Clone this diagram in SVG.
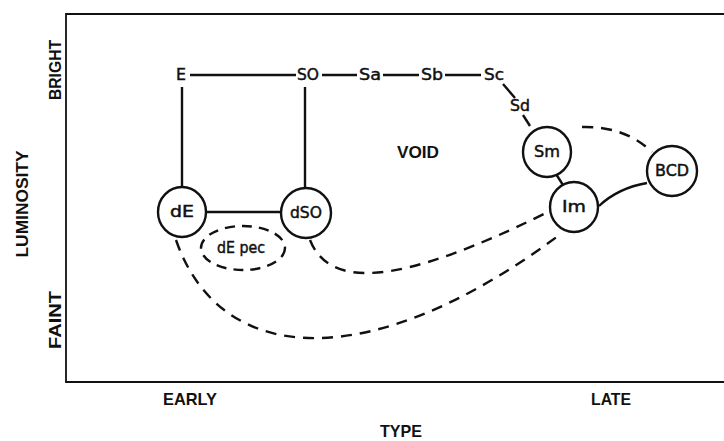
<svg xmlns="http://www.w3.org/2000/svg" width="724" height="441" viewBox="0 0 724 441">
<style>
.t{font-family:"DejaVu Sans","Liberation Sans",sans-serif;font-size:15px;fill:#111;stroke:#111;stroke-width:0.45;text-anchor:middle;dominant-baseline:central}
.ax{font-family:"Liberation Sans",Arial,sans-serif;font-size:17px;font-weight:bold;fill:#111;text-anchor:middle;dominant-baseline:central}
.s{stroke:#111;stroke-width:2.4;fill:none}
.d{stroke:#111;stroke-width:2.4;fill:none;stroke-dasharray:11 8}
.n{stroke:#111;stroke-width:2.4;fill:#fff}
</style>
<rect width="724" height="441" fill="#fff"/>
<g id="frame">
<polyline class="s" points="724,14 66,14 66,382 724,382" style="stroke-width:1.8"/>
</g>
<g id="axis-labels">
<text class="ax" transform="translate(55,70) rotate(-90)" textLength="60" lengthAdjust="spacingAndGlyphs">BRIGHT</text>
<text class="ax" transform="translate(22,204) rotate(-90)" textLength="107" lengthAdjust="spacingAndGlyphs">LUMINOSITY</text>
<text class="ax" transform="translate(55,320) rotate(-90)" textLength="58" lengthAdjust="spacingAndGlyphs">FAINT</text>
<text class="ax" x="190" y="399" textLength="54" lengthAdjust="spacingAndGlyphs">EARLY</text>
<text class="ax" x="611" y="399" textLength="40" lengthAdjust="spacingAndGlyphs">LATE</text>
<text class="ax" x="401" y="431" textLength="42" lengthAdjust="spacingAndGlyphs">TYPE</text>
<text class="ax" x="418" y="152" textLength="42" lengthAdjust="spacingAndGlyphs">VOID</text>
</g>
<g id="connectors">
<line class="s" x1="190" y1="75" x2="296" y2="75"/>
<line class="s" x1="322" y1="75" x2="357" y2="75"/>
<line class="s" x1="383" y1="75" x2="419" y2="75"/>
<line class="s" x1="445" y1="75" x2="481" y2="75"/>
<line class="s" x1="503" y1="84" x2="515" y2="98"/>
<line class="s" x1="523" y1="115" x2="530" y2="126"/>
<line class="s" x1="182" y1="87" x2="182" y2="188"/>
<line class="s" x1="305" y1="87" x2="305" y2="188"/>
<line class="s" x1="206" y1="212" x2="281" y2="212"/>
<line class="s" x1="556" y1="174" x2="563" y2="185"/>
<path class="d" d="M582 127 Q625 126 652 152"/>
<path class="s" d="M599 206 Q618 188 647 183"/>
<path class="d" d="M310 240 C330 290 400 285 546 213"/>
<path class="d" d="M176 240 C220 367 370 377 562 233"/>
</g>
<g id="E"><text class="t" x="181" y="75" textLength="10" lengthAdjust="spacingAndGlyphs">E</text></g>
<g id="SO"><text class="t" x="308" y="75" textLength="22" lengthAdjust="spacingAndGlyphs">SO</text></g>
<g id="Sa"><text class="t" x="370" y="75" textLength="22" lengthAdjust="spacingAndGlyphs">Sa</text></g>
<g id="Sb"><text class="t" x="432" y="75" textLength="22" lengthAdjust="spacingAndGlyphs">Sb</text></g>
<g id="Sc"><text class="t" x="494" y="75" textLength="20" lengthAdjust="spacingAndGlyphs">Sc</text></g>
<g id="Sd"><text class="t" x="520" y="106" textLength="20" lengthAdjust="spacingAndGlyphs">Sd</text></g>
<g id="dE"><ellipse class="n" cx="182" cy="212" rx="24" ry="25"/><text class="t" x="182" y="212" textLength="24" lengthAdjust="spacingAndGlyphs">dE</text></g>
<g id="dSO"><ellipse class="n" cx="306" cy="213" rx="25" ry="25"/><text class="t" x="306" y="213" textLength="32" lengthAdjust="spacingAndGlyphs">dSO</text></g>
<g id="dEpec"><ellipse class="d" cx="243" cy="248" rx="42" ry="22" style="stroke-dasharray:10 7"/><text class="t" x="241" y="248" textLength="48" lengthAdjust="spacingAndGlyphs">dE pec</text></g>
<g id="Sm"><ellipse class="n" cx="547" cy="152" rx="24" ry="25"/><text class="t" x="547" y="152" textLength="26" lengthAdjust="spacingAndGlyphs">Sm</text></g>
<g id="Im"><ellipse class="n" cx="574" cy="207" rx="24" ry="25"/><text class="t" x="574" y="207" textLength="24" lengthAdjust="spacingAndGlyphs">Im</text></g>
<g id="BCD"><ellipse class="n" cx="672" cy="171" rx="25" ry="25"/><text class="t" x="672" y="171" textLength="34" lengthAdjust="spacingAndGlyphs">BCD</text></g>
</svg>
